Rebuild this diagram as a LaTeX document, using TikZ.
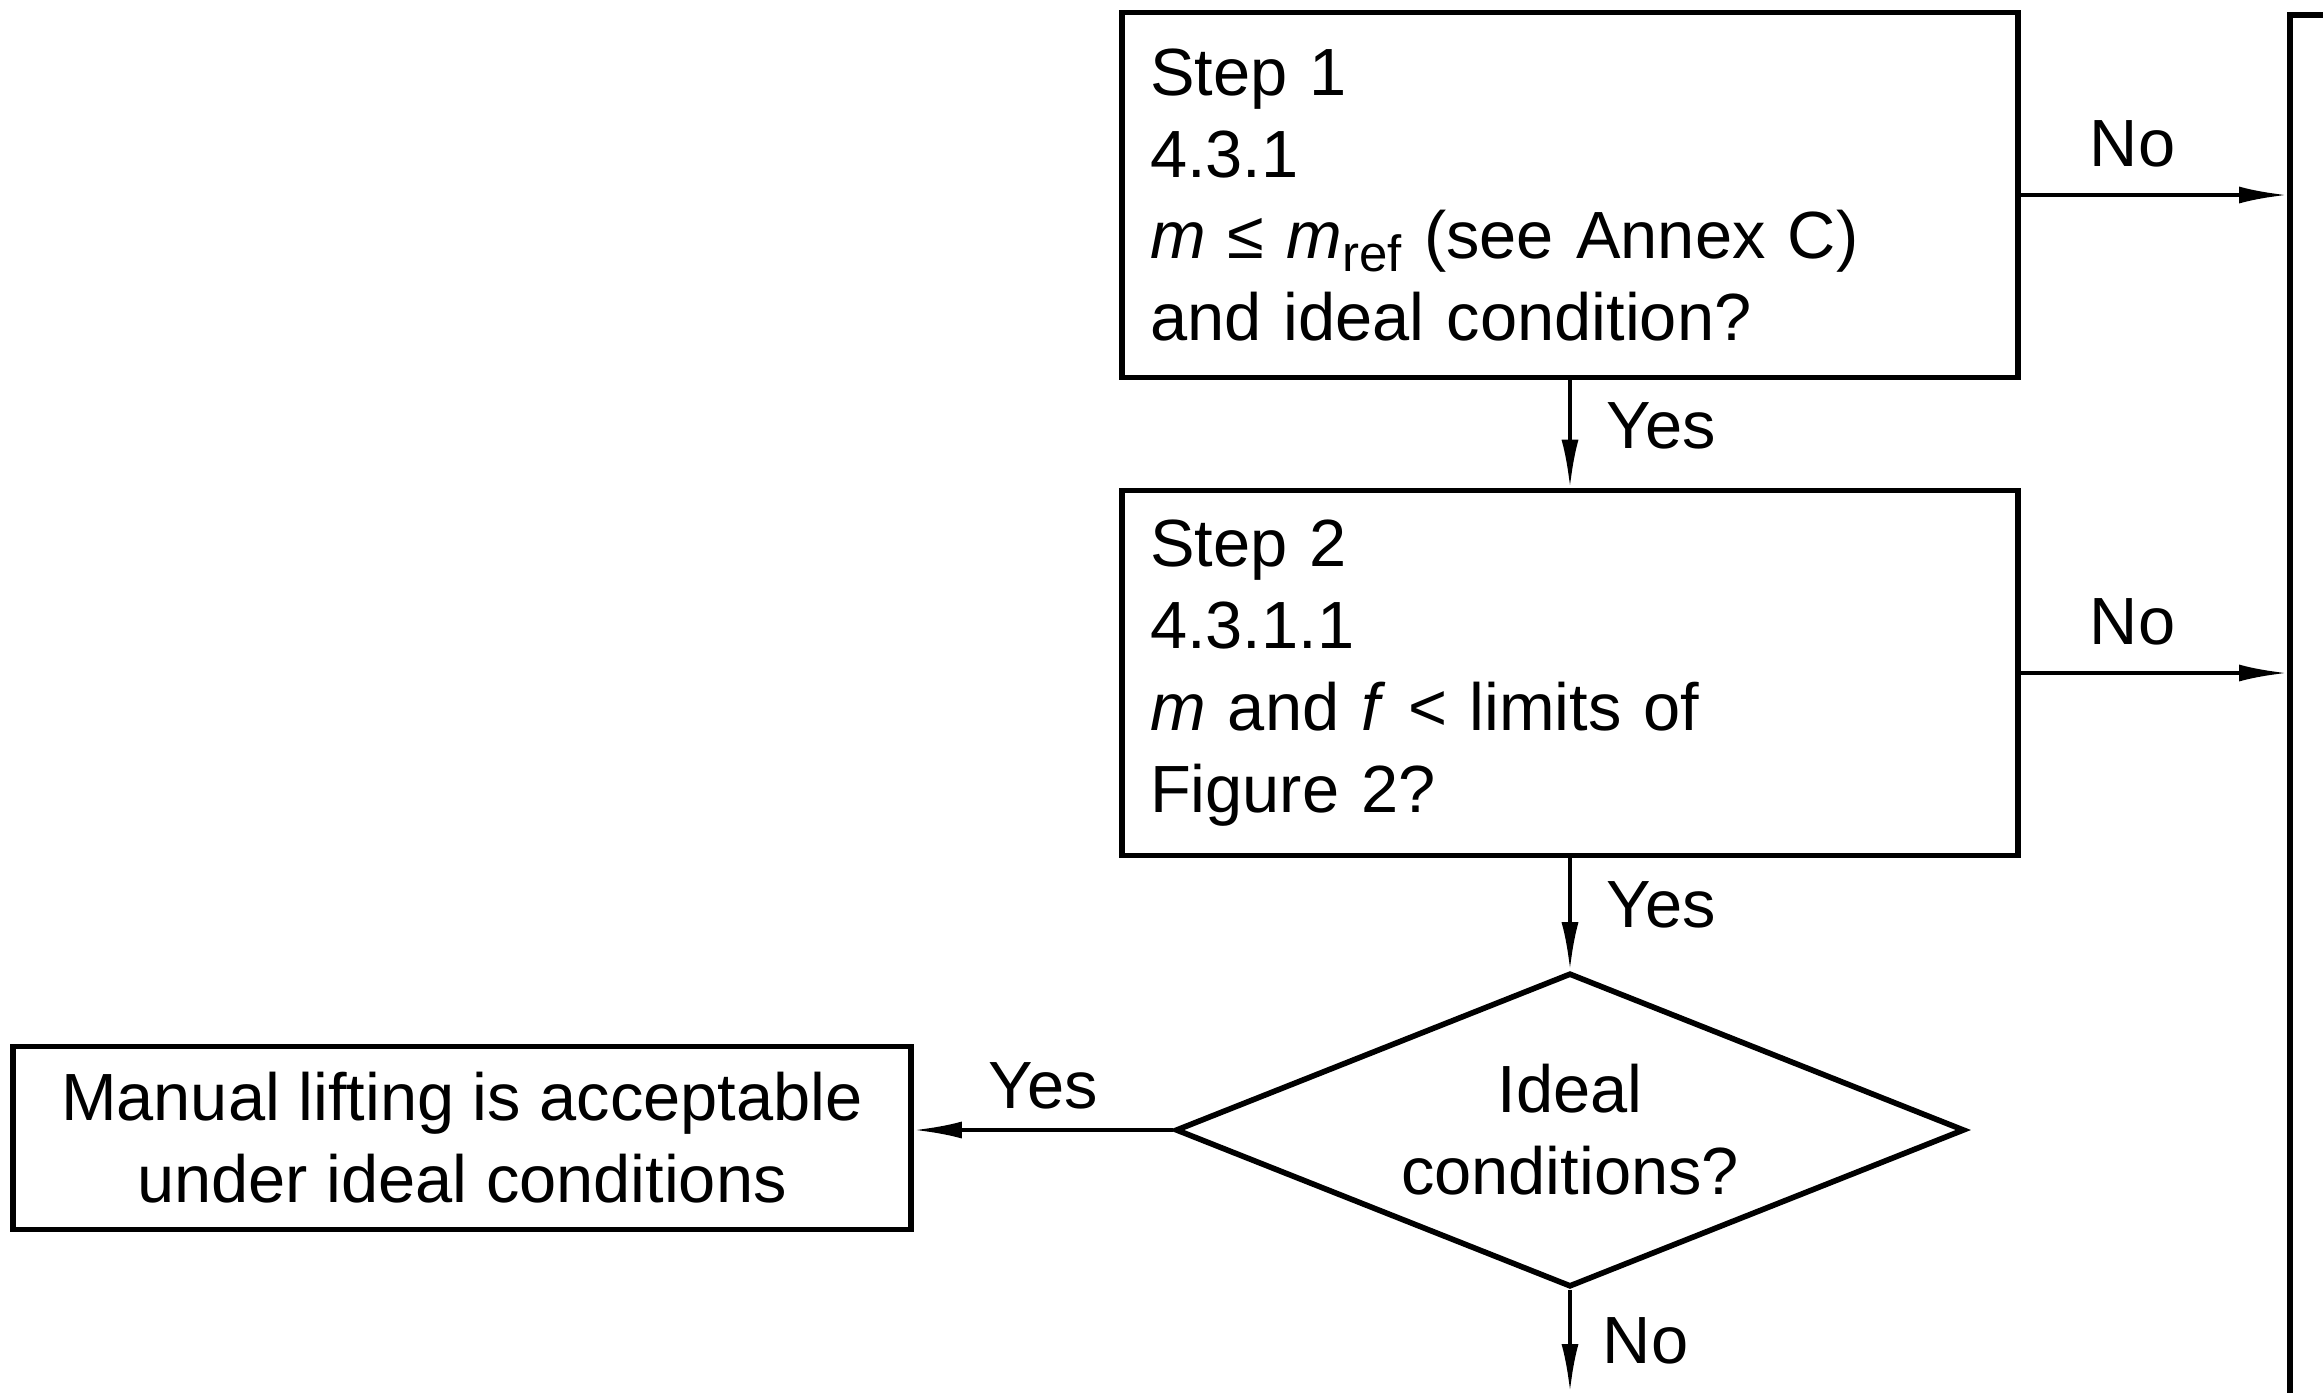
\documentclass[tikz,border=0pt]{standalone}
\usepackage{fontspec}
\setmainfont{Liberation Sans}
\usetikzlibrary{arrows.meta,positioning,shapes.geometric}
\newcommand{\lowtext}[1]{\raisebox{-3.7pt}{\fontsize{14.5}{14.5}\selectfont #1}}
\tikzset{>={Latex[length=4.8mm,width=1.7mm]},every node/.style={font=\fontsize{19}{23.3}\selectfont},
 stepbox/.style={draw,line width=1.6pt,minimum width=89.6mm,minimum height=36.5mm,
 text width=84mm,align=left,inner sep=0pt},
 endbox/.style={draw,line width=1.6pt,minimum width=89.8mm,minimum height=18.3mm,align=center},
 query/.style={diamond,draw,line width=1.6pt,aspect=2.5,minimum width=78.9mm,
 minimum height=31.4mm,inner sep=0pt,align=center},
 lab/.style={inner sep=0pt},flow/.style={draw,line width=1.1pt,->}}
\begin{document}
\begin{tikzpicture}[x=0.1mm,y=-0.1mm]
\useasboundingbox (0,0) rectangle (2323,1392);
\clip (0,0) rectangle (2323,1392);
\node[stepbox] (step1) at (1570,195) {Step 1\\4.3.1\\\textit{m} ≤ \textit{m}\lowtext{ref} (see Annex C)\\and ideal condition?};
\node[stepbox] (step2) at (1570,673) {Step 2\\4.3.1.1\\\textit{m} and \textit{f} < limits of\\Figure 2?};
\node[query] (ideal) at (1570,1130) {Ideal\\conditions?};
\node[endbox] (accept) at (462,1138) {Manual lifting is acceptable\\under ideal conditions};
\node[draw,line width=1.6pt,anchor=north west,minimum width=20mm,minimum height=150mm] (action) at (2287,12) {};
\coordinate (out) at (1570,1392);
\foreach \s in {step1,step2}
 \draw[flow] (\s.east) -- node[lab,above=2.6mm,pos=.42]{No} (\s.east -| action.west);
\draw[flow] (step1.south) -- node[lab,right=3.5mm,yshift=0.8mm]{Yes} (step2.north);
\draw[flow] (step2.south) -- node[lab,right=3.5mm,yshift=0.9mm]{Yes} (ideal.north);
\draw[flow] (ideal.west) -- node[lab,above=1.9mm]{Yes} (ideal.west -| accept.east);
\draw[flow] (ideal.south) -- node[lab,right=3.1mm]{No} (out);
\end{tikzpicture}
\end{document}
